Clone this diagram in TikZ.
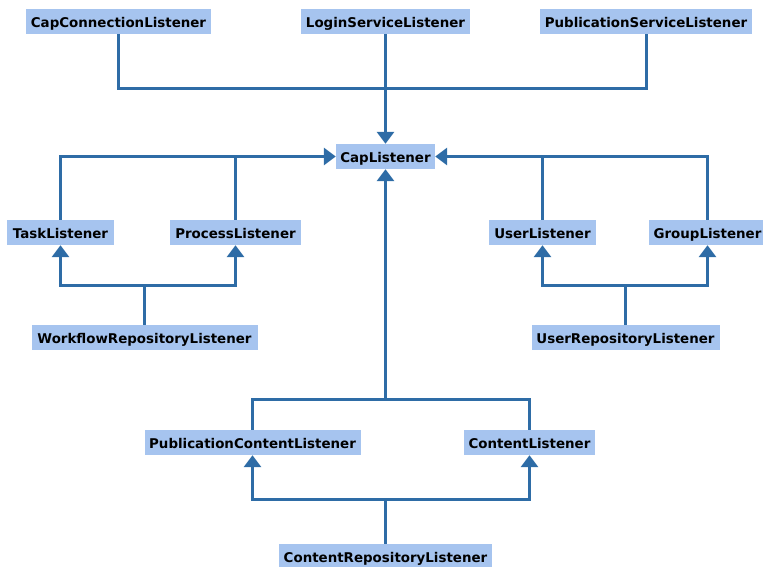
\documentclass[tikz,border=0pt]{standalone}
\usepackage{fontspec}
\setmainfont{DejaVu Sans}
\usetikzlibrary{arrows.meta}
\definecolor{boxfill}{RGB}{166,196,239}
\definecolor{linec}{RGB}{46,108,166}
\begin{document}
\begin{tikzpicture}[x=1pt,y=-1pt,
  cls/.style={fill=boxfill, draw=none, minimum height=25pt, inner sep=0pt,
    text height=12.6pt, text depth=0pt,
    font=\bfseries\fontsize{13.4}{15}\selectfont},
  conn/.style={draw=linec, line width=3pt},
  arr/.style={conn, -{Triangle[width=17pt,length=12pt]}}]
\useasboundingbox (0,0) rectangle (763,567);
\node[cls, minimum width=185pt] (ccl) at (118.5,21.5) {CapConnectionListener};
\node[cls, minimum width=169pt] (lsl) at (385.5,21.5) {LoginServiceListener};
\node[cls, minimum width=212pt] (psl) at (646,21.5) {PublicationServiceListener};
\node[cls, minimum width=99pt] (cap) at (385.5,156.5) {CapListener};
\node[cls, minimum width=107pt] (task) at (60.5,232.5) {TaskListener};
\node[cls, minimum width=131pt] (proc) at (235.5,232.5) {ProcessListener};
\node[cls, minimum width=107pt] (user) at (542.5,232.5) {UserListener};
\node[cls, minimum width=118pt] (group) at (707.5,232.5) {GroupListener};
\node[cls, minimum width=226pt] (wrl) at (144.5,337.5) {WorkflowRepositoryListener};
\node[cls, minimum width=188pt] (url) at (625.5,337.5) {UserRepositoryListener};
\node[cls, minimum width=216pt] (pcl) at (252.5,442.5) {PublicationContentListener};
\node[cls, minimum width=131pt] (cl) at (529.5,442.5) {ContentListener};
\node[cls, minimum width=213pt] (crl) at (385.5,556.5) {ContentRepositoryListener};
\coordinate (tj) at (385.5,88.5);
\coordinate (wj) at (144.5,285.5);
\coordinate (uj) at (625.5,285.5);
\coordinate (cj) at (385.5,399.5);
\coordinate (rj) at (385.5,499.5);
% top
\draw[conn] (ccl.south) |- (tj) -| (psl.south);
\draw[arr] (lsl.south) -- (cap.north);
% left
\draw[arr] (task.north) |- (cap.west);
\draw[conn] (proc.north) -- (proc.north |- cap.west);
% right
\draw[arr] (group.north) |- (cap.east);
\draw[conn] (user.north) -- (user.north |- cap.east);
% workflow
\draw[conn] (wrl.north) -- (wj);
\draw[arr] (wj) -| (task.south);
\draw[arr] (wj) -| (proc.south);
% user repository
\draw[conn] (url.north) -- (uj);
\draw[arr] (uj) -| (user.south);
\draw[arr] (uj) -| (group.south);
% content
\draw[conn] (pcl.north) |- (cj) -| (cl.north);
\draw[arr] (cj) -- (cap.south);
% content repository
\draw[conn] (crl.north) -- (rj);
\draw[arr] (rj) -| (pcl.south);
\draw[arr] (rj) -| (cl.south);
\end{tikzpicture}
\end{document}
